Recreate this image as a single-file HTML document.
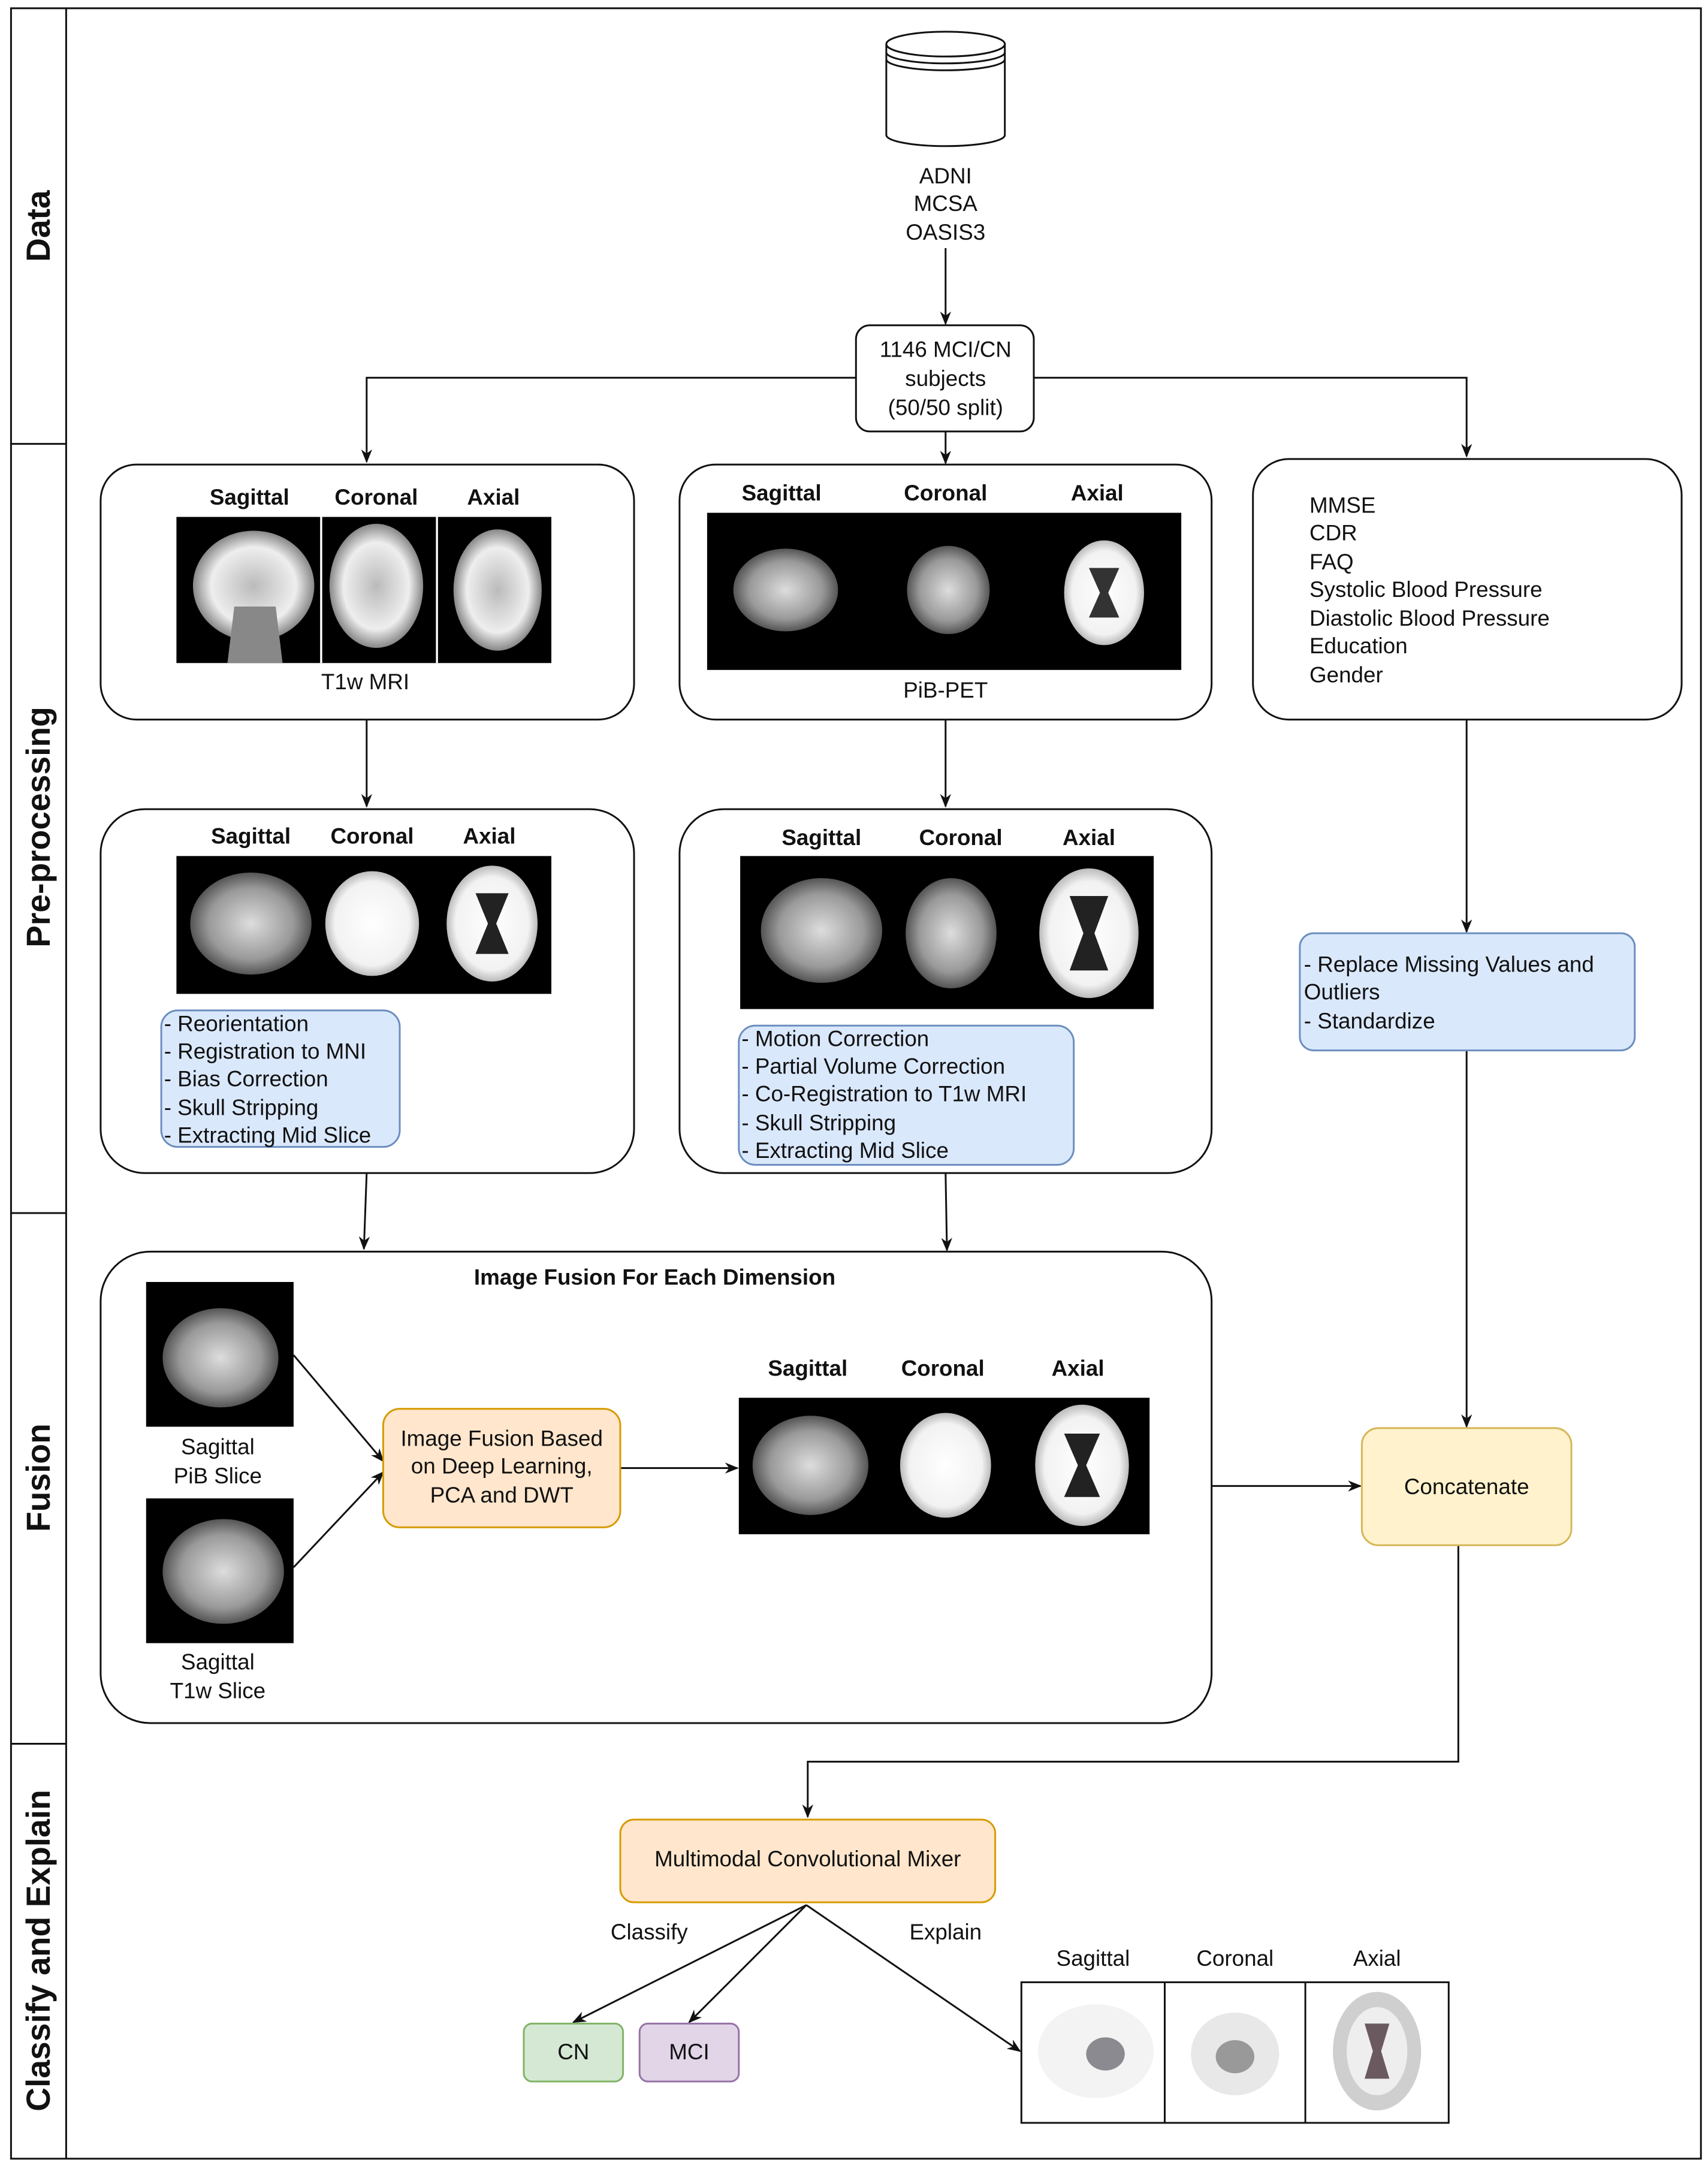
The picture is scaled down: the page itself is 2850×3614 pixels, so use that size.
<!DOCTYPE html>
<html><head><meta charset="utf-8"><style>
html,body{margin:0;padding:0;background:#fff;}
svg{display:block}
text{font-family:"Liberation Sans",Arial,sans-serif;fill:#111;}
</style></head><body>
<svg width="2850" height="3614" viewBox="0 0 1239.13 1571.3" xmlns="http://www.w3.org/2000/svg">
<defs>
<marker id="a" markerWidth="10" markerHeight="10" refX="9" refY="5" orient="auto" markerUnits="userSpaceOnUse"><path d="M0,1 L10,5 L0,9 L3,5 Z" fill="#111"/></marker>
<radialGradient id="g1" cx="50%" cy="50%" r="50%"><stop offset="0" stop-color="#ddd"/><stop offset="0.7" stop-color="#999"/><stop offset="1" stop-color="#555"/></radialGradient>
<radialGradient id="g2" cx="50%" cy="50%" r="50%"><stop offset="0" stop-color="#bbb"/><stop offset="0.7" stop-color="#eee"/><stop offset="1" stop-color="#888"/></radialGradient>
<radialGradient id="g3" cx="50%" cy="50%" r="50%"><stop offset="0" stop-color="#fff"/><stop offset="0.8" stop-color="#f2f2f2"/><stop offset="1" stop-color="#bbb"/></radialGradient>
</defs>
<g fill="none" stroke="#111" stroke-width="1.3">
<rect x="8" y="6" width="1226" height="1560"/>
<line x1="48" y1="6" x2="48" y2="1566"/>
<line x1="8" y1="322" x2="48" y2="322"/>
<line x1="8" y1="880" x2="48" y2="880"/>
<line x1="8" y1="1265" x2="48" y2="1265"/>
</g>
<g font-size="24" font-weight="bold">
<text transform="translate(36,164) rotate(-90)" text-anchor="middle">Data</text>
<text transform="translate(36,600) rotate(-90)" text-anchor="middle">Pre-processing</text>
<text transform="translate(36,1072) rotate(-90)" text-anchor="middle">Fusion</text>
<text transform="translate(36,1415) rotate(-90)" text-anchor="middle">Classify and Explain</text>
</g>
<g fill="#fff" stroke="#111" stroke-width="1.3">
<path d="M643,32 L643,98 A43,8 0 0 0 729,98 L729,32"/>
<ellipse cx="686" cy="32" rx="43" ry="9"/>
<path d="M643,38 A43,8 0 0 0 729,38" fill="none"/>
<path d="M643,43 A43,8 0 0 0 729,43" fill="none"/>
</g>
<g font-size="16" text-anchor="middle">
<text x="686" y="133">ADNI</text><text x="686" y="153">MCSA</text><text x="686" y="174">OASIS3</text>
</g>
<g fill="none" stroke="#111" stroke-width="1.3" marker-end="url(#a)">
<line x1="686" y1="180" x2="686" y2="235"/>
<polyline points="621,274 266,274 266,335"/>
<polyline points="750,274 1064,274 1064,331"/>
<line x1="686" y1="313" x2="686" y2="336"/>
<line x1="266" y1="522" x2="266" y2="585"/>
<line x1="686" y1="522" x2="686" y2="585"/>
<line x1="1064" y1="522" x2="1064" y2="676"/>
<line x1="266" y1="851" x2="264" y2="906"/>
<line x1="686" y1="851" x2="687" y2="907"/>
<line x1="1064" y1="762" x2="1064" y2="1035"/>
<line x1="879" y1="1078" x2="987" y2="1078"/>
<polyline points="1058,1121 1058,1278 586,1278 586,1318"/>
<line x1="585" y1="1382" x2="416" y2="1467"/>
<line x1="585" y1="1382" x2="500" y2="1467"/>
<line x1="585" y1="1382" x2="740" y2="1488"/>
</g>
<rect x="621" y="236" width="129" height="77" rx="10" fill="#fff" stroke="#111" stroke-width="1.3"/>
<g font-size="16" text-anchor="middle"><text x="686" y="259">1146 MCI/CN</text><text x="686" y="280">subjects</text><text x="686" y="301">(50/50 split)</text></g>
<g fill="#fff" stroke="#111" stroke-width="1.3">
<rect x="73" y="337" width="387" height="185" rx="26"/>
<rect x="493" y="337" width="386" height="185" rx="26"/>
<rect x="909" y="333" width="311" height="189" rx="26"/>
<rect x="73" y="587" width="387" height="264" rx="32"/>
<rect x="493" y="587" width="386" height="264" rx="32"/>
<rect x="73" y="908" width="806" height="342" rx="36"/>
</g>
<g fill="none" stroke="#111" stroke-width="1.3" marker-end="url(#a)">
<line x1="213" y1="983" x2="278" y2="1060"/>
<line x1="213" y1="1137" x2="278" y2="1068"/>
<line x1="450" y1="1065" x2="535" y2="1065"/>
</g>
<g font-size="16" font-weight="bold" text-anchor="middle">
<text x="181" y="366">Sagittal</text><text x="273" y="366">Coronal</text><text x="358" y="366">Axial</text>
<text x="567" y="363">Sagittal</text><text x="686" y="363">Coronal</text><text x="796" y="363">Axial</text>
<text x="182" y="612">Sagittal</text><text x="270" y="612">Coronal</text><text x="355" y="612">Axial</text>
<text x="596" y="613">Sagittal</text><text x="697" y="613">Coronal</text><text x="790" y="613">Axial</text>
<text x="475" y="932">Image Fusion For Each Dimension</text>
<text x="586" y="998">Sagittal</text><text x="684" y="998">Coronal</text><text x="782" y="998">Axial</text>
</g>
<g>
<rect x="128" y="375" width="272" height="106" fill="#000"/>
<ellipse cx="184" cy="425" rx="44" ry="40" fill="url(#g2)"/><path d="M170,440 L200,440 L205,481 L165,481Z" fill="#888"/>
<ellipse cx="273" cy="425" rx="34" ry="45" fill="url(#g2)"/>
<ellipse cx="361" cy="428" rx="32" ry="44" fill="url(#g2)"/>
<line x1="233" y1="375" x2="233" y2="481" stroke="#fff" stroke-width="1.5"/><line x1="317" y1="375" x2="317" y2="481" stroke="#fff" stroke-width="1.5"/>
<rect x="513" y="372" width="344" height="114" fill="#000"/>
<ellipse cx="570" cy="428" rx="38" ry="30" fill="url(#g1)"/>
<ellipse cx="688" cy="428" rx="30" ry="32" fill="url(#g1)"/>
<ellipse cx="801" cy="430" rx="29" ry="38" fill="url(#g3)"/><path d="M790,412 L812,412 L804,430 L812,448 L790,448 L798,430Z" fill="#333"/>
<rect x="128" y="621" width="272" height="100" fill="#000"/>
<ellipse cx="182" cy="670" rx="44" ry="37" fill="url(#g1)"/>
<ellipse cx="270" cy="670" rx="34" ry="38" fill="url(#g3)"/>
<ellipse cx="357" cy="670" rx="33" ry="42" fill="url(#g3)"/><path d="M345,648 L369,648 L360,670 L369,692 L345,692 L354,670Z" fill="#222"/>
<rect x="537" y="621" width="300" height="111" fill="#000"/>
<ellipse cx="596" cy="675" rx="44" ry="38" fill="url(#g1)"/>
<ellipse cx="690" cy="677" rx="33" ry="40" fill="url(#g1)"/>
<ellipse cx="790" cy="677" rx="36" ry="47" fill="url(#g3)"/><path d="M776,650 L804,650 L794,677 L804,704 L776,704 L786,677Z" fill="#222"/>
<rect x="106" y="930" width="107" height="105" fill="#000"/>
<ellipse cx="160" cy="985" rx="42" ry="36" fill="url(#g1)"/>
<rect x="106" y="1087" width="107" height="105" fill="#000"/>
<ellipse cx="162" cy="1140" rx="44" ry="38" fill="url(#g1)"/>
<rect x="536" y="1014" width="298" height="99" fill="#000"/>
<ellipse cx="588" cy="1063" rx="42" ry="36" fill="url(#g1)"/>
<ellipse cx="686" cy="1063" rx="33" ry="38" fill="url(#g3)"/>
<ellipse cx="785" cy="1063" rx="34" ry="44" fill="url(#g3)"/><path d="M772,1040 L798,1040 L788,1063 L798,1086 L772,1086 L782,1063Z" fill="#222"/>
</g>
<g font-size="16" text-anchor="middle">
<text x="265" y="500">T1w MRI</text><text x="686" y="506">PiB-PET</text>
<text x="158" y="1055">Sagittal</text><text x="158" y="1076">PiB Slice</text>
<text x="158" y="1211">Sagittal</text><text x="158" y="1232">T1w Slice</text>
</g>
<g font-size="16">
<text x="950" y="372">MMSE</text><text x="950" y="392">CDR</text><text x="950" y="413">FAQ</text>
<text x="950" y="433">Systolic Blood Pressure</text><text x="950" y="454">Diastolic Blood Pressure</text>
<text x="950" y="474">Education</text><text x="950" y="495">Gender</text>
</g>
<g fill="#dae8fc" stroke="#6c8ebf" stroke-width="1.3">
<rect x="117" y="733" width="173" height="99" rx="12"/>
<rect x="536" y="744" width="243" height="101" rx="12"/>
<rect x="943" y="677" width="243" height="85" rx="10"/>
</g>
<g font-size="16">
<text x="119" y="748">- Reorientation</text><text x="119" y="768">- Registration to MNI</text><text x="119" y="788">- Bias Correction</text><text x="119" y="809">- Skull Stripping</text><text x="119" y="829">- Extracting Mid Slice</text>
<text x="538" y="759">- Motion Correction</text><text x="538" y="779">- Partial Volume Correction</text><text x="538" y="799">- Co-Registration to T1w MRI</text><text x="538" y="820">- Skull Stripping</text><text x="538" y="840">- Extracting Mid Slice</text>
<text x="946" y="705">- Replace Missing Values and</text><text x="946" y="725">Outliers</text><text x="946" y="746">- Standardize</text>
</g>
<g stroke-width="1.3">
<rect x="278" y="1022" width="172" height="86" rx="12" fill="#ffe6cc" stroke="#d79b00"/>
<rect x="988" y="1036" width="152" height="85" rx="12" fill="#fff2cc" stroke="#d6b656"/>
<rect x="450" y="1320" width="272" height="60" rx="10" fill="#ffe6cc" stroke="#d79b00"/>
<rect x="380" y="1468" width="72" height="42" rx="6" fill="#d5e8d4" stroke="#82b366"/>
<rect x="464" y="1468" width="72" height="42" rx="6" fill="#e1d5e7" stroke="#9673a6"/>
</g>
<g font-size="16" text-anchor="middle">
<text x="364" y="1049">Image Fusion Based</text><text x="364" y="1069">on Deep Learning,</text><text x="364" y="1090">PCA and DWT</text>
<text x="1064" y="1084">Concatenate</text>
<text x="586" y="1354">Multimodal Convolutional Mixer</text>
<text x="471" y="1407">Classify</text><text x="686" y="1407">Explain</text>
<text x="416" y="1494">CN</text><text x="500" y="1494">MCI</text>
<text x="793" y="1426">Sagittal</text><text x="896" y="1426">Coronal</text><text x="999" y="1426">Axial</text>
</g>
<g>
<rect x="741" y="1438" width="310" height="102" fill="#fff" stroke="#111" stroke-width="1.3"/>
<line x1="845" y1="1438" x2="845" y2="1540" stroke="#111" stroke-width="1.3"/>
<line x1="947" y1="1438" x2="947" y2="1540" stroke="#111" stroke-width="1.3"/>
<ellipse cx="795" cy="1488" rx="42" ry="34" fill="#f3f3f3"/><ellipse cx="802" cy="1490" rx="14" ry="12" fill="#8a8a90"/>
<ellipse cx="896" cy="1490" rx="32" ry="30" fill="#e8e8e8"/><ellipse cx="896" cy="1492" rx="14" ry="12" fill="#999"/>
<ellipse cx="999" cy="1488" rx="32" ry="43" fill="#cfcfcf"/><ellipse cx="999" cy="1488" rx="22" ry="32" fill="#eee"/><path d="M990,1468 L1008,1468 L1002,1488 L1008,1508 L990,1508 L996,1488Z" fill="#6a5a60"/>
</g>
</svg>
</body></html>
